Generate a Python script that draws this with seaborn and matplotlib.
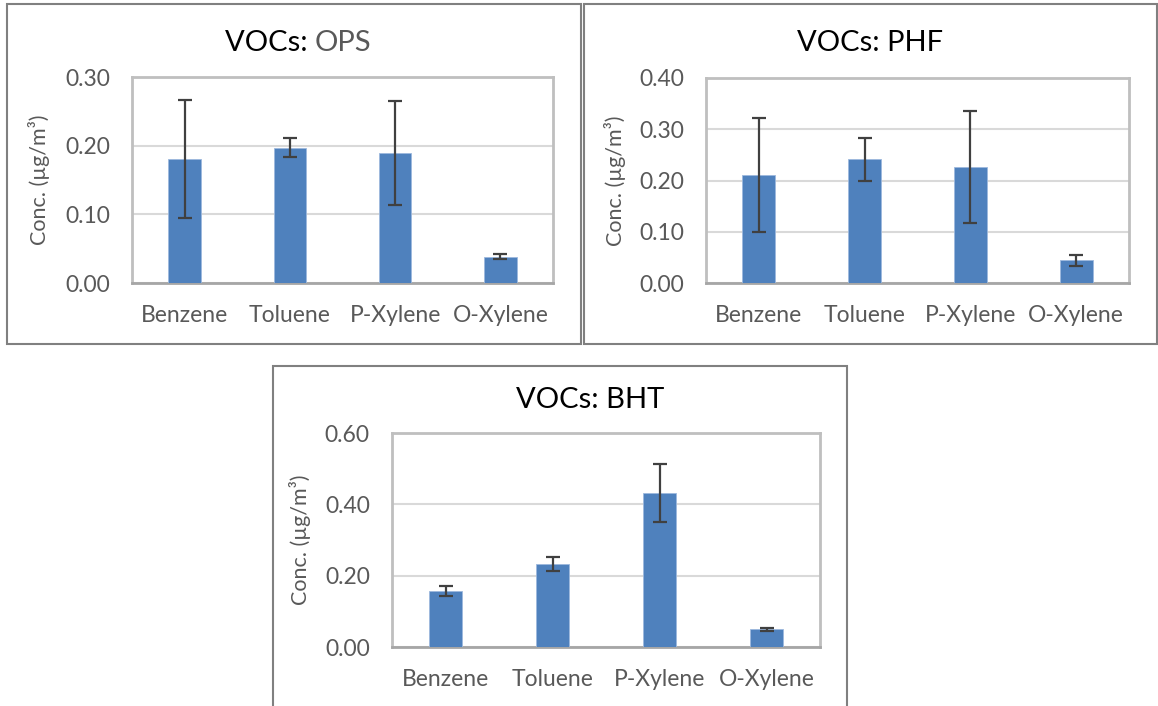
import matplotlib
matplotlib.use("Agg")
import matplotlib.pyplot as plt
import seaborn as sns
import pandas as pd
from matplotlib.patches import Rectangle

sns.set_theme(style="white")
plt.rcParams['font.family'] = ['Lato', 'DejaVu Sans']

categories = ["Benzene", "Toluene", "P-Xylene", "O-Xylene"]

ops_values = [0.181, 0.197, 0.189, 0.0385]
ops_errors = [0.086, 0.014, 0.076, 0.004]

phf_values = [0.210, 0.241, 0.227, 0.044]
phf_errors = [0.111, 0.041, 0.109, 0.011]

bht_values = [0.157, 0.232, 0.432, 0.0496]
bht_errors = [0.015, 0.020, 0.082, 0.004]

ops_ticks = [0.00, 0.10, 0.20, 0.30]
phf_ticks = [0.00, 0.10, 0.20, 0.30, 0.40]
bht_ticks = [0.00, 0.20, 0.40, 0.60]

W, H = 1158, 706
fig = plt.figure(figsize=(W / 100, H / 100), dpi=100)
fig.patch.set_facecolor("white")


def rect(l, t, r, b):
    return [l / W, 1 - b / H, (r - l) / W, (b - t) / H]


def frame(l, t, r, b):
    fig.patches.append(Rectangle((l / W, 1 - b / H), (r - l) / W, (b - t) / H,
                                 transform=fig.transFigure, fill=False,
                                 edgecolor="#808080", linewidth=1.5, zorder=0))


# panel borders
frame(7, 4, 581, 344)
frame(584, 4, 1157, 344)
frame(273, 366, 847, 712)

BAR = "#4F81BD"
TXT = "#595959"


def panel(box, values, errors, ticks, ylabel_x):
    l, t, r_, b = box
    ax = fig.add_axes(rect(*box))
    df = pd.DataFrame({"cat": categories, "val": values})
    sns.barplot(data=df, x="cat", y="val", ax=ax, color=BAR, width=0.31,
                saturation=1, edgecolor="#9DB9DE", linewidth=0.6, zorder=3)
    ax.errorbar(range(len(categories)), values, yerr=errors, fmt="none",
                ecolor="#404040", elinewidth=1.6, capsize=5, capthick=1.6, zorder=4)
    ax.set_ylim(ticks[0], ticks[-1])
    ax.set_xlim(-0.5, len(categories) - 0.5)
    ax.set_yticks(ticks)
    ax.set_yticklabels([f"{v:.2f}" for v in ticks])
    ax.yaxis.grid(True, color="#D9D9D9", linewidth=1.5, zorder=0)
    ax.set_axisbelow(True)
    for s in ax.spines.values():
        s.set_color("#BFBFBF")
        s.set_linewidth(2)
    ax.spines["bottom"].set_color("#A6A6A6")
    ax.tick_params(axis="y", length=0, labelsize=16.5, colors=TXT, pad=16)
    ax.tick_params(axis="x", length=0, labelsize=16.5, colors=TXT, pad=16)
    ax.set_xlabel("")
    ax.set_ylabel("Conc. (µg/m³)", fontsize=15.5, color=TXT)
    ax.yaxis.set_label_coords((ylabel_x - l) / (r_ - l), 0.5)
    return ax


ax1 = panel((132, 77, 553, 283), ops_values, ops_errors, ops_ticks, 50)
ax2 = panel((706, 78, 1129, 283), phf_values, phf_errors, phf_ticks, 626)
ax3 = panel((392, 433, 820, 647), bht_values, bht_errors, bht_ticks, 311)

# titles
tfs = 21
t1a = fig.text(0, 0, "VOCs: ", fontsize=tfs, color="black")
t1b = fig.text(0, 0, "OPS", fontsize=tfs, color=TXT)
fig.canvas.draw()
r = fig.canvas.get_renderer()
wa = t1a.get_window_extent(r).width
wb = t1b.get_window_extent(r).width
cx1 = 298
y1 = 1 - 43 / H
t1a.set_position(((cx1 - (wa + wb) / 2) / W, y1))
t1a.set_va("center")
t1b.set_position(((cx1 - (wa + wb) / 2 + wa) / W, y1))
t1b.set_va("center")

fig.text(870 / W, 1 - 43 / H, "VOCs: PHF", fontsize=tfs, color="black",
         ha="center", va="center")
fig.text(590 / W, 1 - 400 / H, "VOCs: BHT", fontsize=tfs, color="black",
         ha="center", va="center")

fig.savefig("out.png", dpi=100, facecolor="white")
